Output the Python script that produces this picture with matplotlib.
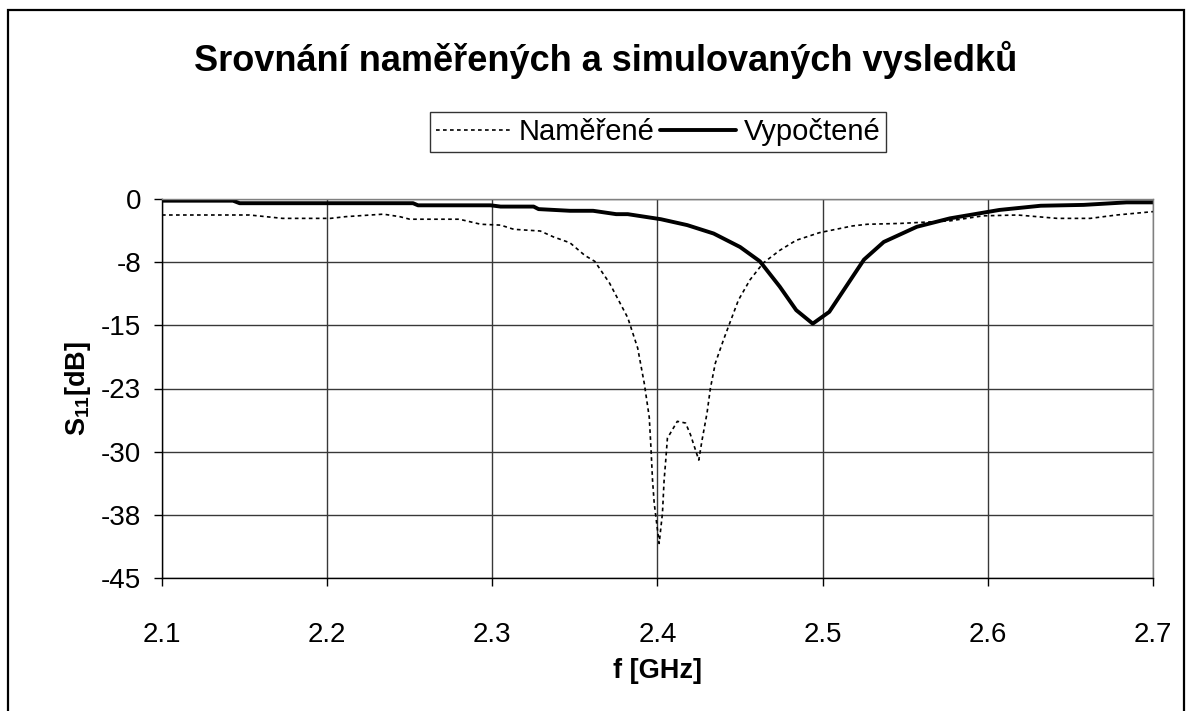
import matplotlib
matplotlib.use("Agg")
import matplotlib.pyplot as plt
from matplotlib.patches import Rectangle

plt.rcParams['font.family'] = ['Liberation Sans', 'DejaVu Sans']
plt.rcParams['mathtext.fontset'] = 'custom'
plt.rcParams['mathtext.bf'] = 'Liberation Sans:bold'
plt.rcParams['mathtext.rm'] = 'Liberation Sans'

# Measured reflection coefficient (GHz, dB)
f_measured = [2.100, 2.123, 2.153, 2.173, 2.202, 2.211, 2.234, 2.244, 2.250, 2.280,
              2.293, 2.305, 2.313, 2.329, 2.337, 2.347, 2.356, 2.362, 2.371, 2.382,
              2.388, 2.392, 2.395, 2.396, 2.397, 2.398, 2.401, 2.403, 2.404, 2.405,
              2.406, 2.412, 2.417, 2.420, 2.425, 2.427, 2.430, 2.432, 2.435, 2.440,
              2.444, 2.449, 2.456, 2.464, 2.474, 2.484, 2.498, 2.518, 2.527, 2.547,
              2.577, 2.597, 2.618, 2.642, 2.662, 2.678, 2.700]
s11_measured = [-1.9, -1.9, -1.9, -2.3, -2.3, -2.1, -1.8, -2.1, -2.4, -2.4,
                -3.0, -3.1, -3.6, -3.8, -4.5, -5.2, -6.7, -7.4, -10.0, -14.1,
                -17.7, -21.9, -25.9, -29.4, -33.4, -36.1, -40.9, -37.3, -33.4, -31.0,
                -28.4, -26.4, -26.6, -28.0, -31.0, -28.6, -25.4, -22.5, -19.5, -16.7,
                -14.6, -12.0, -9.6, -7.6, -6.1, -4.9, -4.0, -3.2, -3.0, -2.9,
                -2.6, -2.0, -1.9, -2.3, -2.3, -1.9, -1.5]

# Simulated reflection coefficient (GHz, dB)
f_computed = [2.100, 2.143, 2.147, 2.252, 2.255, 2.299, 2.305, 2.325, 2.328, 2.347,
              2.361, 2.375, 2.382, 2.402, 2.418, 2.434, 2.450, 2.462, 2.474, 2.484,
              2.494, 2.504, 2.525, 2.537, 2.557, 2.577, 2.607, 2.632, 2.658, 2.684,
              2.700]
s11_computed = [-0.2, -0.2, -0.5, -0.5, -0.75, -0.75, -0.9, -0.9, -1.2, -1.4,
                -1.4, -1.8, -1.8, -2.4, -3.1, -4.1, -5.7, -7.4, -10.4, -13.2,
                -14.8, -13.4, -7.2, -5.1, -3.3, -2.3, -1.3, -0.8, -0.7, -0.4,
                -0.4]

x_ticks = [2.1, 2.2, 2.3, 2.4, 2.5, 2.6, 2.7]
x_tick_labels = ['2.1', '2.2', '2.3', '2.4', '2.5', '2.6', '2.7']
y_ticks = [0, -7.5, -15, -22.5, -30, -37.5, -45]
y_tick_labels = ['0', '-8', '-15', '-23', '-30', '-38', '-45']

W, H = 1192, 711
fig = plt.figure(figsize=(W / 100, H / 100), dpi=100)

# chart frame
fig.patches.append(Rectangle((8 / W, -0.02), (1184 - 8) / W, 1 - 10 / H + 0.02,
                             transform=fig.transFigure, fill=False,
                             edgecolor='black', linewidth=1.6))

ax = fig.add_axes([162 / W, 1 - 578 / H, (1153 - 162) / W, (578 - 199) / H])

ax.plot(f_measured, s11_measured, color='black', linewidth=1.2,
        linestyle=(0, (2.2, 2.0)), label='Naměřené')
ax.plot(f_computed, s11_computed, color='black', linewidth=2.8,
        solid_joinstyle='round', solid_capstyle='round', label='Vypočtené')

ax.set_xlim(2.1, 2.7)
ax.set_ylim(-45, 0)
ax.set_xticks(x_ticks)
ax.set_xticklabels(x_tick_labels)
ax.set_yticks(y_ticks)
ax.set_yticklabels(y_tick_labels)
ax.tick_params(axis='both', direction='out', length=6, width=1, labelsize=20,
               colors='black')
ax.tick_params(axis='x', pad=26)
ax.tick_params(axis='y', pad=9)
ax.grid(True, color='#383838', linewidth=1)
ax.set_axisbelow(True)
for side in ('left', 'bottom'):
    ax.spines[side].set_color('black')
    ax.spines[side].set_linewidth(1)
for side in ('top', 'right'):
    ax.spines[side].set_color('#808080')
    ax.spines[side].set_linewidth(1)

ax.set_xlabel('f [GHz]', fontsize=19.5, fontweight='bold', labelpad=7)
ax.set_ylabel(r'$\mathbf{S}_{\mathbf{11}}\mathbf{[dB]}$', fontsize=19.5, labelpad=6)

fig.text(606 / W, 1 - 60 / H, 'Srovnání naměřených a simulovaných vysledků',
         ha='center', va='center', fontsize=26, fontweight='bold')

leg = fig.legend(loc='center', bbox_to_anchor=(658 / W, 1 - 132 / H), ncol=2,
                 fontsize=21, frameon=True, fancybox=False, shadow=False,
                 handlelength=2.6, handletextpad=0.25, columnspacing=0.2,
                 borderpad=0.2, borderaxespad=0)
leg.get_frame().set_edgecolor('black')
leg.get_frame().set_linewidth(1)

fig.savefig('out.png', dpi=100)
